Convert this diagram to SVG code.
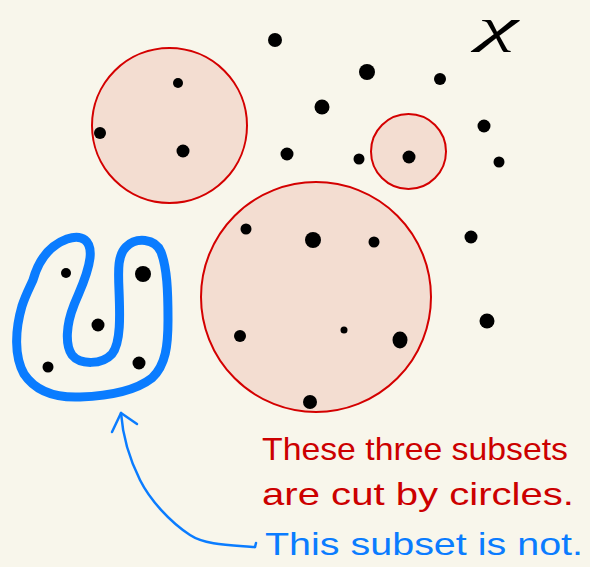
<svg xmlns="http://www.w3.org/2000/svg" width="590" height="567" viewBox="0 0 590 567">
<style>
.set{fill:#f3ddd1;stroke:#d40000;stroke-width:2}
.pt{fill:#000}
.hand{font-family:"Liberation Sans",Arial,sans-serif;font-size:32px}
.red{fill:#cc0000}
.blue{fill:#0a7cff}
</style>
<rect width="590" height="567" fill="#f8f6eb"/>
<g id="circle-a"><circle class="set" cx="169.5" cy="125.5" r="77.5"/></g>
<g id="circle-b"><circle class="set" cx="408.5" cy="151.5" r="37.5"/></g>
<g id="circle-c"><circle class="set" cx="316" cy="297" r="115"/></g>
<g id="u-subset">
<path d="M33,280 C38,262 48,246 67,239 C82,234 92,240 90,258 C88,275 80,290 74,305 C66,325 65,345 72,355 C80,365 102,365 112,354 C121,343 120,315 119,290 C118,268 118,255 126,247 C136,237 155,238 161,252 C167,268 168,290 168,320 C168,345 166,365 152,378 C134,392 108,396 80,397 C55,398 36,392 24,374 C14,356 15,330 22,306 C26,294 30,287 33,280 Z" fill="none" stroke="#0a7cff" stroke-width="9" stroke-linejoin="round"/>
</g>
<g id="points">
<circle class="pt" cx="178" cy="83" r="5"/>
<circle class="pt" cx="100" cy="133" r="6"/>
<circle class="pt" cx="183" cy="151" r="6.5"/>
<circle class="pt" cx="246" cy="229" r="5.5"/>
<circle class="pt" cx="313" cy="240" r="8"/>
<circle class="pt" cx="374" cy="242" r="5.5"/>
<circle class="pt" cx="240" cy="336" r="6"/>
<circle class="pt" cx="344" cy="330" r="3.5"/>
<ellipse class="pt" cx="400" cy="340" rx="7.5" ry="8.5"/>
<circle class="pt" cx="310" cy="402" r="7"/>
<circle class="pt" cx="409" cy="157" r="6.5"/>
<circle class="pt" cx="359" cy="159" r="5.5"/>
<circle class="pt" cx="484" cy="126" r="6.5"/>
<circle class="pt" cx="499" cy="162" r="5.5"/>
<circle class="pt" cx="275" cy="40" r="7"/>
<circle class="pt" cx="367" cy="72" r="8"/>
<circle class="pt" cx="440" cy="79" r="6"/>
<circle class="pt" cx="322" cy="107" r="7.5"/>
<circle class="pt" cx="287" cy="154" r="6.5"/>
<circle class="pt" cx="471" cy="237" r="6.5"/>
<circle class="pt" cx="487" cy="321" r="7.5"/>
<circle class="pt" cx="66" cy="273" r="5"/>
<circle class="pt" cx="143" cy="274" r="8"/>
<circle class="pt" cx="98" cy="325" r="6.5"/>
<circle class="pt" cx="48" cy="367" r="5.5"/>
<circle class="pt" cx="139" cy="363" r="6.5"/>
</g>
<g id="label-x"><text x="478" y="42" font-family="'Liberation Serif',serif" font-style="italic" font-size="48" fill="#000" textLength="40" lengthAdjust="spacingAndGlyphs">χ</text></g>
<g id="connectors">
<path d="M255,547 C230,545 205,545 190,535 C170,522 150,500 140,480 C130,460 123,440 121,413" fill="none" stroke="#0a7cff" stroke-width="2.5" stroke-linecap="round"/>
<path d="M112,432 L121,413 L137,424" fill="none" stroke="#0a7cff" stroke-width="2.5" stroke-linecap="round" stroke-linejoin="round"/>
<path d="M255,547 L256,543" fill="none" stroke="#0a7cff" stroke-width="2.5" stroke-linecap="round"/>
</g>
<g id="note">
<text class="hand red" x="262" y="460" textLength="306" lengthAdjust="spacingAndGlyphs">These three subsets</text>
<text class="hand red" x="262" y="505" textLength="312" lengthAdjust="spacingAndGlyphs">are cut by circles.</text>
<text class="hand blue" x="265" y="555" textLength="318" lengthAdjust="spacingAndGlyphs">This subset is not.</text>
</g>
</svg>
